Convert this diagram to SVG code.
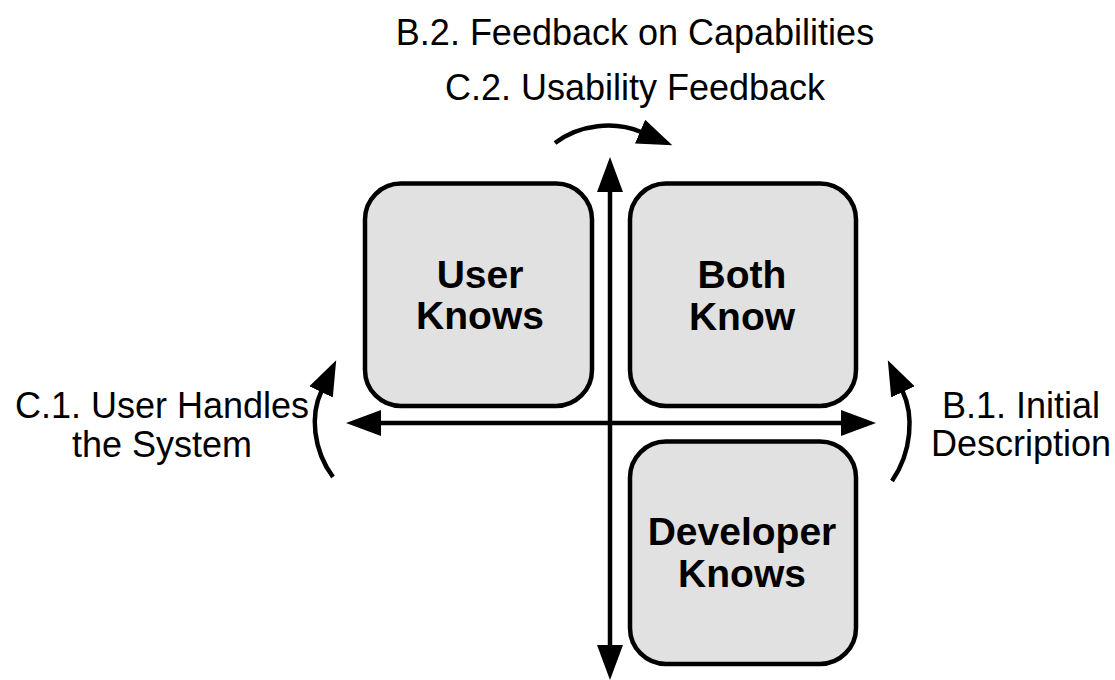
<svg xmlns="http://www.w3.org/2000/svg" width="1115" height="680" viewBox="0 0 1115 680">
<style>
.box{fill:#e1e1e1;stroke:#000;stroke-width:4.5}
.lbl{font-family:"Liberation Sans",Arial,sans-serif;font-size:36px;fill:#000;text-anchor:middle}
.bold{font-family:"Liberation Sans",Arial,sans-serif;font-size:39px;font-weight:bold;fill:#000;text-anchor:middle}
.ln{fill:none;stroke:#000;stroke-width:4.5}
</style>
<defs>
<marker id="ah" markerUnits="userSpaceOnUse" markerWidth="36" markerHeight="28" viewBox="0 0 36 28" refX="1" refY="14" orient="auto-start-reverse">
<path d="M0,1 L35,14 L0,27 z" fill="#000"/>
</marker>
</defs>
<rect width="1115" height="680" fill="#fff"/>
<g id="user-knows">
<rect class="box" x="365" y="183.5" width="227" height="222.5" rx="36"/>
<text class="bold" x="480" y="288">User</text>
<text class="bold" x="480" y="329">Knows</text>
</g>
<g id="both-know">
<rect class="box" x="630" y="183.5" width="226" height="222.5" rx="36"/>
<text class="bold" x="742" y="288">Both</text>
<text class="bold" x="742" y="330">Know</text>
</g>
<g id="developer-knows">
<rect class="box" x="630" y="441.5" width="226" height="222.5" rx="36"/>
<text class="bold" x="742" y="545">Developer</text>
<text class="bold" x="742" y="587">Knows</text>
</g>
<g id="labels">
<text class="lbl" x="635" y="45">B.2. Feedback on Capabilities</text>
<text class="lbl" x="635" y="100">C.2. Usability Feedback</text>
<text class="lbl" x="162" y="418">C.1. User Handles</text>
<text class="lbl" x="162" y="457">the System</text>
<text class="lbl" x="1021" y="418">B.1. Initial</text>
<text class="lbl" x="1021" y="456">Description</text>
</g>
<g id="connectors">
<path class="ln" d="M610,191 L610,646" marker-start="url(#ah)" marker-end="url(#ah)"/>
<path class="ln" d="M380,423 L842,423" marker-start="url(#ah)" marker-end="url(#ah)"/>
<path class="ln" d="M555,143 C580,124 615,121 641,132" marker-end="url(#ah)"/>
<path class="ln" d="M333,477 C313,450 310,415 321.5,391" marker-end="url(#ah)"/>
<path class="ln" d="M892,481 C912,452 914,415 902.5,391" marker-end="url(#ah)"/>
</g>
</svg>
